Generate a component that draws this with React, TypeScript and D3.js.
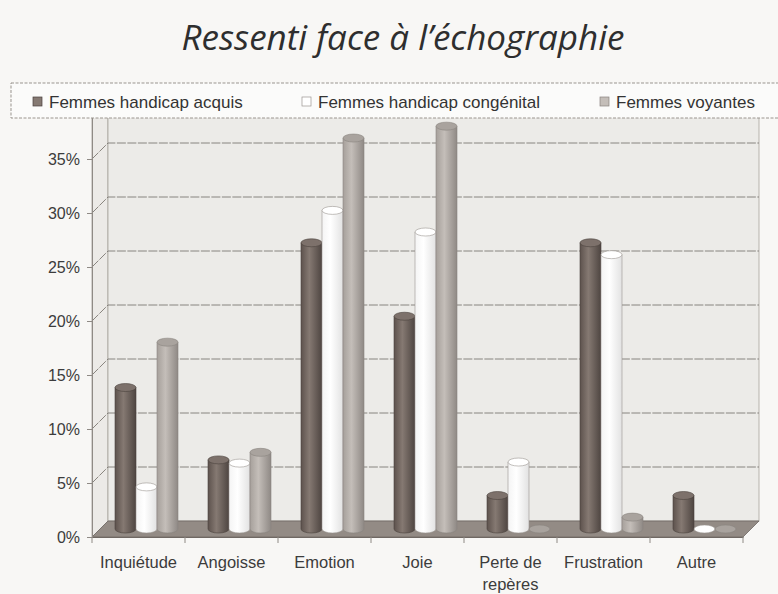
import { useEffect, useRef } from "react";
import * as d3 from "d3";

const WIDTH = 778;
const HEIGHT = 594;

const CATEGORIES = ["Inquiétude", "Angoisse", "Emotion", "Joie", "Perte de repères", "Frustration", "Autre"];
const SERIES = ["Femmes handicap acquis", "Femmes handicap congénital", "Femmes voyantes"];
// values in %
const ACQUIS = [13.1, 6.4, 26.5, 19.7, 3.1, 26.5, 3.1];
const CONGENITAL = [3.9, 6.1, 29.5, 27.5, 6.2, 25.4, 0];
const VOYANTES = [17.3, 7.1, 36.2, 37.3, 0, 1.1, 0];
const Y_TICKS = [0, 5, 10, 15, 20, 25, 30, 35];

const PLOT = { left: 92, right: 743, bottom: 537, top: 105 };
const DEPTH = 16; // 3D offset (x right, y up)
const BAR_RY = 4;
const FONT = "'Liberation Sans', Arial, sans-serif";

// fill styles per series: gradient stops, top cap, outline
const SERIES_STYLE = [
  { stops: ["#5d524d", "#857972", "#4e4541"], top: "#7d716b", stroke: "#4a413d" },
  { stops: ["#f4f4f4", "#ffffff", "#e2e2e2"], top: "#ffffff", stroke: "#9a9590" },
  { stops: ["#a6a09b", "#c4beb9", "#8f8985"], top: "#a9a39e", stroke: "#8a847f" },
];

export default function App() {
  const svgRef = useRef<SVGSVGElement>(null);

  useEffect(() => {
    const svg = svgRef.current;
    if (!svg) return;
    const root = d3.select(svg);
    root.selectAll("*").remove();

    const data = CATEGORIES.map((c, i) => ({ category: c, values: [ACQUIS[i], CONGENITAL[i], VOYANTES[i]] }));

    const x = d3.scaleBand().domain(CATEGORIES).range([PLOT.left, PLOT.right]).padding(0);
    const xSeries = d3
      .scaleBand()
      .domain(SERIES)
      .range([15, x.bandwidth() - 15])
      .padding(0);
    const y = d3.scaleLinear().domain([0, 40]).range([PLOT.bottom, PLOT.top]);

    const defs = root.append("defs");
    SERIES_STYLE.forEach((s, i) => {
      const grad = defs.append("linearGradient").attr("id", `cyl-${i}`).attr("x1", "0").attr("x2", "1").attr("y1", "0").attr("y2", "0");
      grad.append("stop").attr("offset", "0%").attr("stop-color", s.stops[0]);
      grad.append("stop").attr("offset", "40%").attr("stop-color", s.stops[1]);
      grad.append("stop").attr("offset", "100%").attr("stop-color", s.stops[2]);
    });

    // page background
    root.append("rect").attr("width", WIDTH).attr("height", HEIGHT).attr("fill", "#f8f7f5");

    const wallTop = y(40) - DEPTH;
    const back0 = y(0) - DEPTH;

    // side wall
    root
      .append("path")
      .attr("d", `M${PLOT.left},${y(0)} L${PLOT.left},${y(40)} L${PLOT.left + DEPTH},${wallTop} L${PLOT.left + DEPTH},${back0} Z`)
      .attr("fill", "#eceae7")
      .attr("stroke", "#9d9893")
      .attr("stroke-width", 0.8);

    // back wall
    root
      .append("rect")
      .attr("x", PLOT.left + DEPTH)
      .attr("y", wallTop)
      .attr("width", PLOT.right - PLOT.left)
      .attr("height", back0 - wallTop)
      .attr("fill", "#ecebe8")
      .attr("stroke", "#aaa59f")
      .attr("stroke-width", 0.8);

    // gridlines: back wall + diagonal on side wall
    const grid = root.append("g").attr("stroke", "#7e7974").attr("stroke-width", 0.9).attr("fill", "none");
    Y_TICKS.filter((t) => t > 0).forEach((t) => {
      grid
        .append("path")
        .attr("d", `M${PLOT.left},${y(t)} L${PLOT.left + DEPTH},${y(t) - DEPTH} L${PLOT.right + DEPTH},${y(t) - DEPTH}`)
        .attr("stroke-dasharray", "9,1.5");
    });

    // floor
    root
      .append("path")
      .attr("d", `M${PLOT.left},${y(0)} L${PLOT.right},${y(0)} L${PLOT.right + DEPTH},${back0} L${PLOT.left + DEPTH},${back0} Z`)
      .attr("fill", "#938b85")
      .attr("stroke", "#6f6863")
      .attr("stroke-width", 0.8);

    // cylinders
    const half = DEPTH / 2;
    const bars = root.append("g");
    data.forEach((d) => {
      d.values.forEach((v, si) => {
        const style = SERIES_STYLE[si];
        const bx = (x(d.category) ?? 0) + (xSeries(SERIES[si]) ?? 0) + half;
        const bw = xSeries.bandwidth();
        const base = y(0) - half;
        const top = y(v) - half;
        const g = bars.append("g");
        if (top < base) {
          g.append("path")
            .attr("d", `M${bx},${top} L${bx},${base} A${bw / 2},${BAR_RY} 0 0 0 ${bx + bw},${base} L${bx + bw},${top} Z`)
            .attr("fill", `url(#cyl-${si})`)
            .attr("stroke", style.stroke)
            .attr("stroke-width", 0.6);
        }
        g.append("ellipse")
          .attr("cx", bx + bw / 2)
          .attr("cy", top)
          .attr("rx", bw / 2)
          .attr("ry", BAR_RY)
          .attr("fill", style.top)
          .attr("stroke", style.stroke)
          .attr("stroke-width", 0.6);
      });
    });

    // y axis
    const yAxis = root
      .append("g")
      .attr("transform", `translate(${PLOT.left},0)`)
      .call(
        d3
          .axisLeft(y)
          .tickValues(Y_TICKS)
          .tickSize(5)
          .tickFormat((v) => `${v}%`)
      );
    yAxis.select(".domain").attr("stroke", "#8f8a85");
    yAxis.selectAll(".tick line").attr("stroke", "#8f8a85");
    yAxis
      .selectAll(".tick text")
      .attr("font-family", FONT)
      .attr("font-size", 16)
      .attr("fill", "#3c3c3c")
      .attr("x", -12);

    // x axis
    const xAxis = root
      .append("g")
      .attr("transform", `translate(0,${y(0)})`)
      .call(d3.axisBottom(x).tickSize(0).tickFormat(() => ""));
    xAxis.select(".domain").attr("stroke", "#6f6863");
    root
      .append("g")
      .selectAll("line")
      .data(d3.range(CATEGORIES.length + 1))
      .join("line")
      .attr("x1", (i) => PLOT.left + i * x.step())
      .attr("x2", (i) => PLOT.left + i * x.step())
      .attr("y1", y(0))
      .attr("y2", y(0) + 6)
      .attr("stroke", "#8f8a85");

    const labels = root
      .append("g")
      .attr("font-family", FONT)
      .attr("font-size", 16.5)
      .attr("fill", "#3c3c3c")
      .attr("text-anchor", "middle");
    CATEGORIES.forEach((c) => {
      const cx = (x(c) ?? 0) + x.bandwidth() / 2;
      const lines = c === "Perte de repères" ? ["Perte de", "repères"] : [c];
      const t = labels.append("text").attr("x", cx).attr("y", y(0) + 31);
      lines.forEach((l, li) => {
        t.append("tspan").attr("x", cx).attr("dy", li === 0 ? 0 : 22).text(l);
      });
    });

    // legend
    const legend = root.append("g");
    legend
      .append("rect")
      .attr("x", 11)
      .attr("y", 83)
      .attr("width", 780)
      .attr("height", 35)
      .attr("fill", "#fbfbfa")
      .attr("stroke", "#9a958f")
      .attr("stroke-dasharray", "3,1.5");
    const legendX = [33, 302, 600];
    SERIES.forEach((s, i) => {
      const st = SERIES_STYLE[i];
      legend
        .append("rect")
        .attr("x", legendX[i])
        .attr("y", 97)
        .attr("width", 9)
        .attr("height", 9)
        .attr("fill", st.stops[1])
        .attr("stroke", st.stroke)
        .attr("stroke-width", 0.7);
      legend
        .append("text")
        .attr("x", legendX[i] + 16)
        .attr("y", 107.5)
        .attr("font-family", FONT)
        .attr("font-size", 17)
        .attr("fill", "#333")
        .text(s);
    });

    // title
    root
      .append("text")
      .attr("x", 403)
      .attr("y", 50)
      .attr("text-anchor", "middle")
      .attr("font-family", "'Open Sans', 'DejaVu Sans', sans-serif")
      .attr("font-style", "italic")
      .attr("font-size", 35)
      .attr("fill", "#2e2e2e")
      .text("Ressenti face à l’échographie");

    return () => {
      root.selectAll("*").remove();
    };
  }, []);

  return (
    <div style={{ position: "absolute", left: 0, top: 0 }}>
      <svg ref={svgRef} width={WIDTH} height={HEIGHT} aria-label="Ressenti face à l'échographie" />
    </div>
  );
}
